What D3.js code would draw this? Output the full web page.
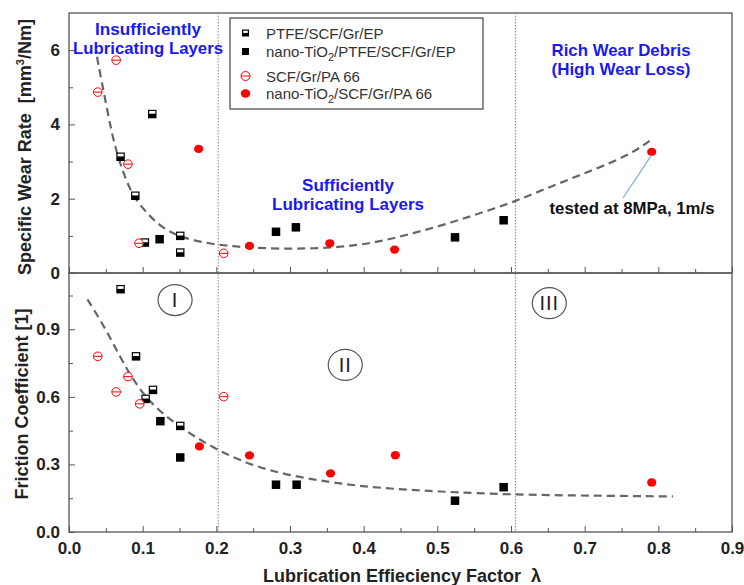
<!DOCTYPE html>
<html>
<head>
<meta charset="utf-8">
<script src="https://cdn.jsdelivr.net/npm/d3@7"></script>
<style>
  body { margin: 0; background: #fff; }
  text { font-family: Arial, "Liberation Sans", sans-serif; }
</style>
</head>
<body>
<div id="chart"></div>
<script>
// data
var ptfeWearX = [0.070, 0.090, 0.103, 0.113, 0.151, 0.151];
var ptfeWearY = [3.13, 2.08, 0.82, 4.28, 1.00, 0.55];
var ptfeFricX = [0.070, 0.091, 0.104, 0.114, 0.151];
var ptfeFricY = [1.078, 0.78, 0.591, 0.631, 0.471];

var nanoEpWearX = [0.123, 0.281, 0.308, 0.524, 0.590];
var nanoEpWearY = [0.91, 1.11, 1.23, 0.96, 1.42];
var nanoEpFricX = [0.124, 0.151, 0.281, 0.309, 0.524, 0.590];
var nanoEpFricY = [0.492, 0.331, 0.21, 0.21, 0.139, 0.199];

var paWearX = [0.039, 0.064, 0.080, 0.095, 0.210];
var paWearY = [4.87, 5.73, 2.93, 0.80, 0.53];
var paFricX = [0.039, 0.064, 0.080, 0.096, 0.210];
var paFricY = [0.78, 0.622, 0.69, 0.569, 0.601];

var nanoPaWearX = [0.176, 0.245, 0.354, 0.442, 0.791];
var nanoPaWearY = [3.34, 0.73, 0.80, 0.63, 3.26];
var nanoPaFricX = [0.177, 0.245, 0.355, 0.443, 0.791];
var nanoPaFricY = [0.380, 0.34, 0.26, 0.341, 0.22];

// dashed trend lines
var wearFitX = [0.038, 0.051, 0.062, 0.074, 0.087, 0.106, 0.124, 0.151, 0.201, 0.241, 0.286, 0.332, 0.377, 0.422, 0.467, 0.513, 0.558, 0.605, 0.648, 0.694, 0.739, 0.771, 0.791];
var wearFitY = [5.82, 4.47, 3.40, 2.68, 2.05, 1.61, 1.25, 0.95, 0.75, 0.69, 0.65, 0.66, 0.71, 0.84, 1.07, 1.32, 1.61, 1.92, 2.28, 2.64, 2.99, 3.31, 3.60];
var fricFitX = [0.025, 0.051, 0.078, 0.106, 0.142, 0.201, 0.268, 0.359, 0.422, 0.499, 0.606, 0.820];
var fricFitY = [1.033, 0.897, 0.72, 0.586, 0.483, 0.36, 0.269, 0.217, 0.195, 0.18, 0.164, 0.158];

var xTicks = [0, 0.1, 0.2, 0.3, 0.4, 0.5, 0.6, 0.7, 0.8, 0.9];
var xMinor = [0.05, 0.15, 0.25, 0.35, 0.45, 0.55, 0.65, 0.75, 0.85];
var wearTicks = [0, 2, 4, 6];
var wearMinor = [1, 3, 5];
var fricTicks = [0, 0.3, 0.6, 0.9];
var fricMinor = [0.15, 0.45, 0.75, 1.05];

var regionBounds = [0.2025, 0.606];
var seriesNames = ["PTFE/SCF/Gr/EP", "nano-TiO2/PTFE/SCF/Gr/EP", "SCF/Gr/PA 66", "nano-TiO2/SCF/Gr/PA 66"];

var W = 744, H = 585;
var pLeft = 69, pRight = 732, pTop = 13, pMid = 273, pBottom = 532;

var svg = d3.select("#chart").append("svg")
  .attr("width", W).attr("height", H);

var x = d3.scaleLinear().domain([0, 0.9]).range([pLeft, pRight]);
var yW = d3.scaleLinear().domain([0, 7]).range([pMid, pTop]);
var yF = d3.scaleLinear().domain([0, 1.15]).range([pBottom, pMid]);

var blue = "#1a1aee";
var red = "#ff0000";

// frames
svg.append("rect").attr("x", pLeft).attr("y", pTop).attr("width", pRight - pLeft).attr("height", pMid - pTop)
  .attr("fill", "none").attr("stroke", "#555").attr("stroke-width", 1.3);
svg.append("rect").attr("x", pLeft).attr("y", pMid).attr("width", pRight - pLeft).attr("height", pBottom - pMid)
  .attr("fill", "none").attr("stroke", "#555").attr("stroke-width", 1.3);

// region dividers
svg.selectAll(".divider").data(regionBounds).enter().append("line")
  .attr("x1", function(d) { return x(d); }).attr("x2", function(d) { return x(d); })
  .attr("y1", pTop).attr("y2", pBottom)
  .attr("stroke", "#888").attr("stroke-width", 1).attr("stroke-dasharray", "1.5,1.5");

function axisStyle(g) {
  g.select(".domain").remove();
  g.selectAll(".tick line").attr("stroke", "#555");
  g.selectAll("text").attr("font-size", "17px").attr("font-weight", "bold")
    .attr("fill", "#222").attr("font-family", "Arial, 'Liberation Sans', sans-serif");
}

// x axes
svg.append("g").attr("transform", "translate(0," + pBottom + ")")
  .call(d3.axisBottom(x).tickValues(xTicks).tickSize(-6).tickPadding(10).tickFormat(d3.format(".1f")))
  .call(axisStyle);
svg.append("g").attr("transform", "translate(0," + pBottom + ")")
  .call(d3.axisBottom(x).tickValues(xMinor).tickSize(-4).tickFormat(""))
  .call(axisStyle);
svg.append("g").attr("transform", "translate(0," + pMid + ")")
  .call(d3.axisBottom(x).tickValues(xTicks).tickSize(-6).tickFormat(""))
  .call(axisStyle);
svg.append("g").attr("transform", "translate(0," + pMid + ")")
  .call(d3.axisBottom(x).tickValues(xMinor).tickSize(-4).tickFormat(""))
  .call(axisStyle);

// y axes
svg.append("g").attr("transform", "translate(" + pLeft + ",0)")
  .call(d3.axisLeft(yW).tickValues(wearTicks).tickSize(-6).tickPadding(9).tickFormat(d3.format("d")))
  .call(axisStyle);
svg.append("g").attr("transform", "translate(" + pLeft + ",0)")
  .call(d3.axisLeft(yW).tickValues(wearMinor).tickSize(-4).tickFormat(""))
  .call(axisStyle);
svg.append("g").attr("transform", "translate(" + pLeft + ",0)")
  .call(d3.axisLeft(yF).tickValues(fricTicks).tickSize(-6).tickPadding(9).tickFormat(d3.format(".1f")))
  .call(axisStyle);
svg.append("g").attr("transform", "translate(" + pLeft + ",0)")
  .call(d3.axisLeft(yF).tickValues(fricMinor).tickSize(-4).tickFormat(""))
  .call(axisStyle);

// axis titles
var wl = svg.append("text")
  .attr("transform", "translate(31,147) rotate(-90)")
  .attr("text-anchor", "middle").attr("font-size", "18px").attr("font-weight", "bold").attr("fill", "#222");
wl.append("tspan").text("Specific Wear Rate\u00a0\u00a0[mm");
wl.append("tspan").attr("dy", -7).attr("font-size", "11px").text("3");
wl.append("tspan").attr("dy", 7).text("/Nm]");

svg.append("text")
  .attr("transform", "translate(28,404) rotate(-90)")
  .attr("text-anchor", "middle").attr("font-size", "18px").attr("font-weight", "bold").attr("fill", "#222")
  .text("Friction Coefficient [1]");

svg.append("text").attr("x", 402).attr("y", 582)
  .attr("text-anchor", "middle").attr("font-size", "18px").attr("font-weight", "bold").attr("fill", "#222")
  .text("Lubrication Effieciency Factor\u00a0\u00a0\u03bb");

// trend lines
var lineW = d3.line().curve(d3.curveBasis)
  .x(function(d, i) { return x(wearFitX[i]); })
  .y(function(d) { return yW(d); });
svg.append("path").attr("d", lineW(wearFitY))
  .attr("fill", "none").attr("stroke", "#666").attr("stroke-width", 2.2).attr("stroke-dasharray", "8,5");

var lineF = d3.line().curve(d3.curveBasis)
  .x(function(d, i) { return x(fricFitX[i]); })
  .y(function(d) { return yF(d); });
svg.append("path").attr("d", lineF(fricFitY))
  .attr("fill", "none").attr("stroke", "#666").attr("stroke-width", 2.2).attr("stroke-dasharray", "8,5");

// markers
function halfSquare(g, cx, cy, s) {
  g.append("rect").attr("x", cx - s / 2).attr("y", cy - s / 2).attr("width", s).attr("height", s)
    .attr("fill", "#000");
  g.append("rect").attr("x", cx - s / 2 + 1.2).attr("y", cy - s / 2 + 1.2).attr("width", s - 2.4).attr("height", s * 0.32)
    .attr("fill", "#fff");
}
function fullSquare(g, cx, cy, s) {
  g.append("rect").attr("x", cx - s / 2).attr("y", cy - s / 2).attr("width", s).attr("height", s)
    .attr("fill", "#000");
}
function openCircle(g, cx, cy, r) {
  g.append("circle").attr("cx", cx).attr("cy", cy).attr("r", r)
    .attr("fill", "#fff").attr("stroke", red).attr("stroke-width", 1);
  g.append("line").attr("x1", cx - r).attr("x2", cx + r).attr("y1", cy).attr("y2", cy)
    .attr("stroke", red).attr("stroke-width", 1);
}
function fullCircle(g, cx, cy, r) {
  g.append("ellipse").attr("cx", cx).attr("cy", cy).attr("rx", r).attr("ry", r * 0.9)
    .attr("fill", red);
}

var marks = svg.append("g");
ptfeWearX.forEach(function(v, i) { halfSquare(marks, x(v), yW(ptfeWearY[i]), 8.5); });
ptfeFricX.forEach(function(v, i) { halfSquare(marks, x(v), yF(ptfeFricY[i]), 8.5); });
nanoEpWearX.forEach(function(v, i) { fullSquare(marks, x(v), yW(nanoEpWearY[i]), 8.5); });
nanoEpFricX.forEach(function(v, i) { fullSquare(marks, x(v), yF(nanoEpFricY[i]), 8.5); });
paWearX.forEach(function(v, i) { openCircle(marks, x(v), yW(paWearY[i]), 4.3); });
paFricX.forEach(function(v, i) { openCircle(marks, x(v), yF(paFricY[i]), 4.3); });
nanoPaWearX.forEach(function(v, i) { fullCircle(marks, x(v), yW(nanoPaWearY[i]), 4.6); });
nanoPaFricX.forEach(function(v, i) { fullCircle(marks, x(v), yF(nanoPaFricY[i]), 4.6); });

// region notes
function twoLines(cx, y1, lines, widths, color, size) {
  lines.forEach(function(t, i) {
    svg.append("text").attr("x", cx).attr("y", y1 + i * 19)
      .attr("text-anchor", "middle").attr("font-size", size).attr("font-weight", "bold")
      .attr("fill", color).attr("textLength", widths[i]).attr("lengthAdjust", "spacingAndGlyphs")
      .text(t);
  });
}
twoLines(148, 35, ["Insufficiently", "Lubricating Layers"], [106, 150], blue, "17px");
twoLines(348, 191, ["Sufficiently", "Lubricating Layers"], [92, 152], blue, "17px");
twoLines(621, 56, ["Rich Wear Debris", "(High Wear Loss)"], [139, 139], blue, "17px");

svg.append("text").attr("x", 632).attr("y", 214)
  .attr("text-anchor", "middle").attr("font-size", "17px").attr("font-weight", "bold").attr("fill", "#111")
  .attr("textLength", 165).attr("lengthAdjust", "spacingAndGlyphs")
  .text("tested at 8MPa, 1m/s");
svg.append("line")
  .attr("x1", 623).attr("y1", 198)
  .attr("x2", x(nanoPaWearX[4])).attr("y2", yW(nanoPaWearY[4]) + 3)
  .attr("stroke", "#7fa8d8").attr("stroke-width", 1.2);

// circled region numbers
var regionLabels = ["I", "II", "III"];
var regionX = [0.144, 0.375, 0.652];
var regionY = [1.03, 0.742, 1.016];
regionLabels.forEach(function(t, i) {
  var cx = x(regionX[i]), cy = yF(regionY[i]);
  svg.append("ellipse").attr("cx", cx).attr("cy", cy).attr("rx", 17).attr("ry", 15.5)
    .attr("fill", "none").attr("stroke", "#555").attr("stroke-width", 1.2);
  svg.append("text").attr("x", cx).attr("y", cy + 7)
    .attr("text-anchor", "middle").attr("font-size", "20px").attr("fill", "#222")
    .attr("letter-spacing", "1px")
    .text(t);
});

// legend
var lg = svg.append("g");
lg.append("rect").attr("x", 230).attr("y", 18).attr("width", 253).attr("height", 91)
  .attr("fill", "#fff").attr("stroke", "#444").attr("stroke-width", 1.2);
var legendRows = [33, 51.5, 76, 93.5];
var drawers = [
  function(cx, cy) { halfSquare(lg, cx, cy, 7); },
  function(cx, cy) { fullSquare(lg, cx, cy, 7); },
  function(cx, cy) { openCircle(lg, cx, cy, 4.5); },
  function(cx, cy) { fullCircle(lg, cx, cy, 4.7); }
];
seriesNames.forEach(function(name, i) {
  drawers[i](245.5, legendRows[i]);
  var t = lg.append("text").attr("x", 266).attr("y", legendRows[i] + 5.5)
    .attr("font-size", "15px").attr("fill", "#333");
  var parts = name.split("TiO2");
  if (parts.length > 1) {
    t.append("tspan").text(parts[0] + "TiO");
    t.append("tspan").attr("dy", 4).attr("font-size", "11px").text("2");
    t.append("tspan").attr("dy", -4).text(parts[1]);
  } else {
    t.text(name);
  }
});
</script>
</body>
</html>
